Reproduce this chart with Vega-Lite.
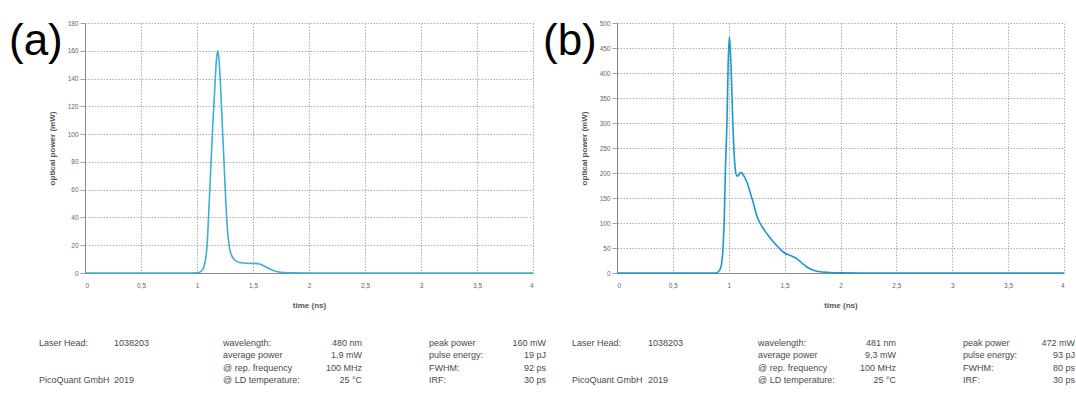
{
  "$schema": "https://vega.github.io/schema/vega-lite/v6.json",
  "background": "white",
  "padding": {"left": 9, "top": 20, "right": 0, "bottom": 0},
  "autosize": {"type": "pad"},
  "bounds": "flush",
  "spacing": 84,
  "datasets": {
    "a": [
      {"t": 0, "p": 0}, {"t": 0.5, "p": 0}, {"t": 0.95, "p": 0}, {"t": 1.0, "p": 0.1}, {"t": 1.03, "p": 0.8},
      {"t": 1.05, "p": 2.5}, {"t": 1.07, "p": 7}, {"t": 1.09, "p": 20}, {"t": 1.1, "p": 35}, {"t": 1.12, "p": 70},
      {"t": 1.14, "p": 105}, {"t": 1.16, "p": 135}, {"t": 1.175, "p": 155}, {"t": 1.185, "p": 160}, {"t": 1.195, "p": 155},
      {"t": 1.21, "p": 135}, {"t": 1.225, "p": 108}, {"t": 1.24, "p": 82}, {"t": 1.255, "p": 55}, {"t": 1.27, "p": 33},
      {"t": 1.29, "p": 18}, {"t": 1.31, "p": 12.5}, {"t": 1.34, "p": 9.2}, {"t": 1.38, "p": 7.6}, {"t": 1.45, "p": 7.0},
      {"t": 1.52, "p": 6.9}, {"t": 1.56, "p": 6.5}, {"t": 1.6, "p": 5.0}, {"t": 1.64, "p": 3.2}, {"t": 1.68, "p": 1.8},
      {"t": 1.72, "p": 0.9}, {"t": 1.78, "p": 0.3}, {"t": 1.85, "p": 0.1}, {"t": 2.0, "p": 0}, {"t": 3.0, "p": 0}, {"t": 4.0, "p": 0}
    ],
    "b": [
      {"t": 0, "p": 0}, {"t": 0.5, "p": 0}, {"t": 0.88, "p": 0}, {"t": 0.91, "p": 3}, {"t": 0.93, "p": 12},
      {"t": 0.95, "p": 55}, {"t": 0.96, "p": 110}, {"t": 0.97, "p": 205}, {"t": 0.985, "p": 310}, {"t": 0.995, "p": 420},
      {"t": 1.005, "p": 472}, {"t": 1.012, "p": 455}, {"t": 1.022, "p": 405}, {"t": 1.035, "p": 310}, {"t": 1.048, "p": 240},
      {"t": 1.06, "p": 205}, {"t": 1.072, "p": 194}, {"t": 1.085, "p": 195}, {"t": 1.1, "p": 200}, {"t": 1.115, "p": 201},
      {"t": 1.13, "p": 196}, {"t": 1.15, "p": 188}, {"t": 1.165, "p": 180}, {"t": 1.18, "p": 170}, {"t": 1.2, "p": 155},
      {"t": 1.22, "p": 140}, {"t": 1.25, "p": 115}, {"t": 1.28, "p": 100}, {"t": 1.3, "p": 92}, {"t": 1.35, "p": 76},
      {"t": 1.4, "p": 62}, {"t": 1.45, "p": 50}, {"t": 1.5, "p": 40}, {"t": 1.55, "p": 35}, {"t": 1.6, "p": 30},
      {"t": 1.65, "p": 21}, {"t": 1.7, "p": 12}, {"t": 1.75, "p": 6}, {"t": 1.8, "p": 3}, {"t": 1.9, "p": 1},
      {"t": 2.0, "p": 0.3}, {"t": 2.2, "p": 0}, {"t": 3.0, "p": 0}, {"t": 4.0, "p": 0}
    ],
    "ta": [
      {"row": 1, "col": 1, "text": "Laser Head:"}, {"row": 1, "col": 2, "text": "1038203"},
      {"row": 1, "col": 3, "text": "wavelength:"}, {"row": 1, "col": 4, "text": "480 nm"},
      {"row": 1, "col": 5, "text": "peak power"}, {"row": 1, "col": 6, "text": "160 mW"},
      {"row": 2, "col": 3, "text": "average power"}, {"row": 2, "col": 4, "text": "1,9 mW"},
      {"row": 2, "col": 5, "text": "pulse energy:"}, {"row": 2, "col": 6, "text": "19 pJ"},
      {"row": 3, "col": 3, "text": "@ rep. frequency"}, {"row": 3, "col": 4, "text": "100 MHz"},
      {"row": 3, "col": 5, "text": "FWHM:"}, {"row": 3, "col": 6, "text": "92 ps"},
      {"row": 4, "col": 1, "text": "PicoQuant GmbH"}, {"row": 4, "col": 2, "text": "2019"},
      {"row": 4, "col": 3, "text": "@ LD temperature:"}, {"row": 4, "col": 4, "text": "25 °C"},
      {"row": 4, "col": 5, "text": "IRF:"}, {"row": 4, "col": 6, "text": "30 ps"}
    ],
    "tb": [
      {"row": 1, "col": 1, "text": "Laser Head:"}, {"row": 1, "col": 2, "text": "1038203"},
      {"row": 1, "col": 3, "text": "wavelength:"}, {"row": 1, "col": 4, "text": "481 nm"},
      {"row": 1, "col": 5, "text": "peak power"}, {"row": 1, "col": 6, "text": "472 mW"},
      {"row": 2, "col": 3, "text": "average power"}, {"row": 2, "col": 4, "text": "9,3 mW"},
      {"row": 2, "col": 5, "text": "pulse energy:"}, {"row": 2, "col": 6, "text": "93 pJ"},
      {"row": 3, "col": 3, "text": "@ rep. frequency"}, {"row": 3, "col": 4, "text": "100 MHz"},
      {"row": 3, "col": 5, "text": "FWHM:"}, {"row": 3, "col": 6, "text": "80 ps"},
      {"row": 4, "col": 1, "text": "PicoQuant GmbH"}, {"row": 4, "col": 2, "text": "2019"},
      {"row": 4, "col": 3, "text": "@ LD temperature:"}, {"row": 4, "col": 4, "text": "25 °C"},
      {"row": 4, "col": 5, "text": "IRF:"}, {"row": 4, "col": 6, "text": "30 ps"}
    ]
  },
  "hconcat": [
    {
      "width": 448,
      "height": 250,
      "title": {"text": "(a)", "anchor": "start", "frame": "group", "fontSize": 44, "font": "Liberation Sans", "fontWeight": "normal", "color": "#000000", "dx": -76, "dy": 48},
      "resolve": {"scale": {"x": "independent", "y": "independent"}},
      "layer": [
        {
          "data": {"name": "a"},
          "mark": {"type": "line", "interpolate": "monotone", "color": "#3eaed6", "strokeWidth": 1.6},
          "encoding": {
            "x": {"field": "t", "type": "quantitative", "scale": {"domain": [0, 4], "nice": false},
                  "axis": {"title": "time (ns)", "values": [0, 0.5, 1, 1.5, 2, 2.5, 3, 3.5, 4], "labelExpr": "replace('' + datum.value, '.', ',')", "ticks": false, "labelPadding": 9, "titlePadding": 13}},
            "y": {"field": "p", "type": "quantitative", "scale": {"domain": [0, 180], "nice": false},
                  "axis": {"title": "optical power (mW)", "values": [0, 20, 40, 60, 80, 100, 120, 140, 160, 180], "tickSize": 5, "labelPadding": 2, "titlePadding": 11}}
          }
        },
        {
          "data": {"name": "ta"},
          "transform": [{"filter": "datum.col != 4 && datum.col != 6"}],
          "mark": {"type": "text", "align": "left", "baseline": "middle", "font": "Liberation Sans", "fontSize": 9, "color": "#4a4a4a"},
          "encoding": {
            "x": {"field": "col", "type": "quantitative", "scale": {"domain": [1, 2, 3, 4, 5, 6], "range": [-46, 29, 138, 277, 344, 461]}, "axis": null},
            "y": {"field": "row", "type": "ordinal", "scale": {"type": "point", "padding": 0.5, "range": [313.5, 363.5]}, "axis": null},
            "text": {"field": "text"}
          }
        },
        {
          "data": {"name": "ta"},
          "transform": [{"filter": "datum.col == 4 || datum.col == 6"}],
          "mark": {"type": "text", "align": "right", "baseline": "middle", "font": "Liberation Sans", "fontSize": 9, "color": "#4a4a4a"},
          "encoding": {
            "x": {"field": "col", "type": "quantitative", "scale": {"domain": [1, 2, 3, 4, 5, 6], "range": [-46, 29, 138, 277, 344, 461]}, "axis": null},
            "y": {"field": "row", "type": "ordinal", "scale": {"type": "point", "padding": 0.5, "range": [313.5, 363.5]}, "axis": null},
            "text": {"field": "text"}
          }
        }
      ]
    },
    {
      "width": 447,
      "height": 250,
      "title": {"text": "(b)", "anchor": "start", "frame": "group", "fontSize": 44, "font": "Liberation Sans", "fontWeight": "normal", "color": "#000000", "dx": -74, "dy": 48},
      "resolve": {"scale": {"x": "independent", "y": "independent"}},
      "layer": [
        {
          "data": {"name": "b"},
          "mark": {"type": "line", "interpolate": "monotone", "color": "#1e98cc", "strokeWidth": 1.6},
          "encoding": {
            "x": {"field": "t", "type": "quantitative", "scale": {"domain": [0, 4], "nice": false},
                  "axis": {"title": "time (ns)", "values": [0, 0.5, 1, 1.5, 2, 2.5, 3, 3.5, 4], "labelExpr": "replace('' + datum.value, '.', ',')", "ticks": false, "labelPadding": 9, "titlePadding": 13}},
            "y": {"field": "p", "type": "quantitative", "scale": {"domain": [0, 500], "nice": false},
                  "axis": {"title": "optical power (mW)", "values": [0, 50, 100, 150, 200, 250, 300, 350, 400, 450, 500], "tickSize": 5, "labelPadding": 2, "titlePadding": 11}}
          }
        },
        {
          "data": {"name": "tb"},
          "transform": [{"filter": "datum.col != 4 && datum.col != 6"}],
          "mark": {"type": "text", "align": "left", "baseline": "middle", "font": "Liberation Sans", "fontSize": 9, "color": "#4a4a4a"},
          "encoding": {
            "x": {"field": "col", "type": "quantitative", "scale": {"domain": [1, 2, 3, 4, 5, 6], "range": [-45, 31, 141, 279, 346, 458]}, "axis": null},
            "y": {"field": "row", "type": "ordinal", "scale": {"type": "point", "padding": 0.5, "range": [313.5, 363.5]}, "axis": null},
            "text": {"field": "text"}
          }
        },
        {
          "data": {"name": "tb"},
          "transform": [{"filter": "datum.col == 4 || datum.col == 6"}],
          "mark": {"type": "text", "align": "right", "baseline": "middle", "font": "Liberation Sans", "fontSize": 9, "color": "#4a4a4a"},
          "encoding": {
            "x": {"field": "col", "type": "quantitative", "scale": {"domain": [1, 2, 3, 4, 5, 6], "range": [-45, 31, 141, 279, 346, 458]}, "axis": null},
            "y": {"field": "row", "type": "ordinal", "scale": {"type": "point", "padding": 0.5, "range": [313.5, 363.5]}, "axis": null},
            "text": {"field": "text"}
          }
        }
      ]
    }
  ],
  "config": {
    "view": {"stroke": null},
    "axis": {
      "labelFont": "Liberation Sans", "labelFontSize": 6.5, "labelColor": "#666666",
      "titleFont": "Liberation Sans", "titleFontSize": 8, "titleFontWeight": "bold", "titleColor": "#555555",
      "gridColor": "#9a9a9a", "gridDash": [1.5, 1.5], "gridWidth": 0.8,
      "domainColor": "#8a8a8a", "domainWidth": 1, "tickColor": "#8a8a8a", "tickWidth": 0.8
    }
  }
}
